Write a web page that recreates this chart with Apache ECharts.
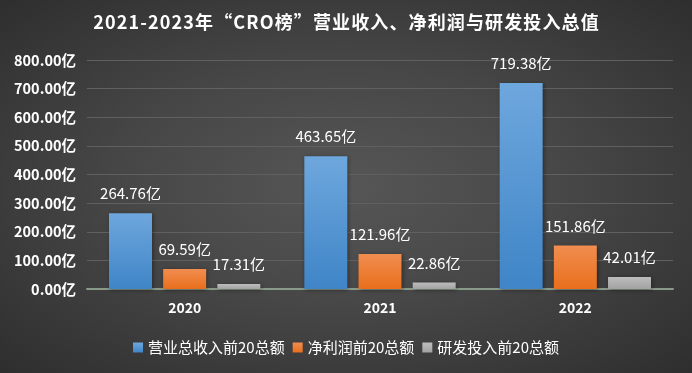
<!DOCTYPE html>
<html><head><meta charset="utf-8">
<script src="https://cdn.jsdelivr.net/npm/echarts@6/dist/echarts.min.js"></script>
<style>
html,body{margin:0;padding:0;}
#c{width:692px;height:373px;background:radial-gradient(ellipse at 50% 50%, #565656 0%, #474747 45%, #2e2e2e 100%);}
</style></head>
<body><div id="c"></div>
<script>
const categories = ['2020', '2021', '2022'];
const revenue = [264.76, 463.65, 719.38];
const profit = [69.59, 121.96, 151.86];
const rnd = [17.31, 22.86, 42.01];
const seriesNames = ['营业总收入前20总额', '净利润前20总额', '研发投入前20总额'];
const titleText = '2021-2023年“CRO榜”营业收入、净利润与研发投入总值';

const font = '"Noto Sans CJK SC", "Noto Sans", sans-serif';
function spaced(s) { return Array.from(s).join('\u200A'); }
function grad(top, bottom) {
  return new echarts.graphic.LinearGradient(0, 0, 0, 1, [
    {offset: 0, color: top}, {offset: 1, color: bottom}
  ]);
}
const label = {
  show: true, position: 'top', distance: 12, color: '#ffffff',
  fontSize: 15, fontFamily: font,
  formatter: p => p.value.toFixed(2) + '亿'
};
const chart = echarts.init(document.getElementById('c'));
chart.setOption({
  backgroundColor: 'transparent',
  title: {
    text: spaced(titleText), left: 'center', top: 8,
    textStyle: {color: '#ffffff', fontSize: 18, fontWeight: 'bold', fontFamily: font}
  },
  legend: {
    bottom: 13, left: 'center', itemWidth: 10, itemHeight: 10, itemGap: 8,
    icon: 'rect',
    textStyle: {color: '#ffffff', fontSize: 15, fontFamily: font},
    data: seriesNames
  },
  grid: {left: 87, right: 19, top: 60, bottom: 84},
  xAxis: {
    type: 'category', data: categories,
    axisLine: {lineStyle: {color: '#8a9a88', width: 2}},
    axisTick: {show: false},
    axisLabel: {color: '#ffffff', fontSize: 14, fontWeight: 'bold', margin: 12, fontFamily: font}
  },
  yAxis: {
    type: 'value', min: 0, max: 800, interval: 100,
    axisLine: {show: false}, axisTick: {show: false},
    splitLine: {lineStyle: {color: '#606060', width: 1}},
    axisLabel: {color: '#ffffff', fontSize: 14.5, fontWeight: 'bold', margin: 11, fontFamily: font,
      formatter: v => v.toFixed(2) + '亿'}
  },
  series: [
    {name: seriesNames[0], type: 'bar', data: revenue, barWidth: 43, barGap: '26%',
      itemStyle: {color: grad('#6ea7dd', '#3f85c7'), shadowColor: 'rgba(0,0,0,0.4)', shadowBlur: 4, shadowOffsetX: 1, shadowOffsetY: 1}, label: label},
    {name: seriesNames[1], type: 'bar', data: profit, barWidth: 43,
      itemStyle: {color: grad('#f08d50', '#e96f1c'), shadowColor: 'rgba(0,0,0,0.4)', shadowBlur: 4, shadowOffsetX: 1, shadowOffsetY: 1}, label: label},
    {name: seriesNames[2], type: 'bar', data: rnd, barWidth: 43,
      itemStyle: {color: grad('#bdbdbd', '#a2a2a2'), shadowColor: 'rgba(0,0,0,0.4)', shadowBlur: 4, shadowOffsetX: 1, shadowOffsetY: 1}, label: label}
  ]
});
</script></body></html>
